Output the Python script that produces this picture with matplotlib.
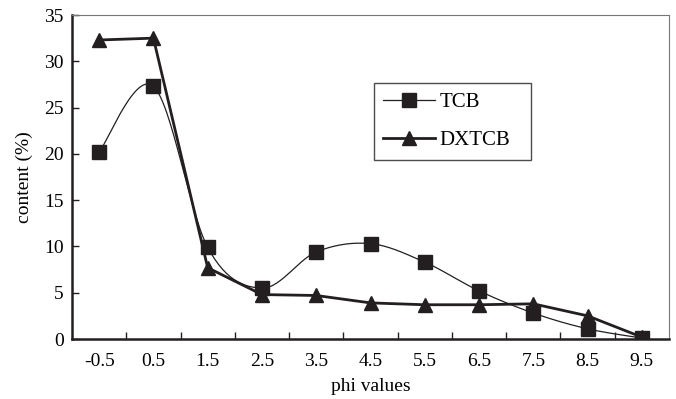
import numpy as np
import matplotlib.pyplot as plt

plt.rcParams['font.family'] = ['Liberation Serif', 'DejaVu Serif']

# phi categories and series values (%)
phi_labels = ['-0.5', '0.5', '1.5', '2.5', '3.5', '4.5', '5.5', '6.5', '7.5', '8.5', '9.5']
tcb = [20.2, 27.3, 9.9, 5.5, 9.4, 10.3, 8.3, 5.2, 2.8, 1.1, 0.1]
dxtcb = [32.3, 32.5, 7.7, 4.8, 4.7, 3.9, 3.7, 3.7, 3.8, 2.5, 0.2]


def smooth(x, y, n=30):
    # Excel-style smoothed line: cubic Bezier through points (Catmull-Rom controls)
    x = np.asarray(x, float)
    y = np.asarray(y, float)
    px = np.concatenate([[x[0]], x, [x[-1]]])
    py = np.concatenate([[y[0]], y, [y[-1]]])
    xs, ys = [], []
    t = np.linspace(0, 1, n)
    for i in range(len(x) - 1):
        p0 = np.array([px[i + 1], py[i + 1]])
        p3 = np.array([px[i + 2], py[i + 2]])
        c1 = p0 + (np.array([px[i + 2], py[i + 2]]) - np.array([px[i], py[i]])) / 6
        c2 = p3 - (np.array([px[i + 3], py[i + 3]]) - np.array([px[i + 1], py[i + 1]])) / 6
        b = ((1 - t) ** 3)[:, None] * p0 + (3 * (1 - t) ** 2 * t)[:, None] * c1 \
            + (3 * (1 - t) * t ** 2)[:, None] * c2 + (t ** 3)[:, None] * p3
        xs.extend(b[:, 0])
        ys.extend(b[:, 1])
    return np.array(xs), np.array(ys)


fig = plt.figure(figsize=(6.76, 3.99), dpi=100)
ax = fig.add_axes([72 / 676, 1 - 339 / 399, 597 / 676, 324 / 399])

x = np.arange(len(phi_labels))
col = '#231f20'

sx, sy = smooth(x, tcb)
ax.plot(sx, sy, color=col, lw=0.9, zorder=2)
ax.plot(x, tcb, ls='none', marker='s', ms=10, color=col, zorder=3)
ax.plot(x, dxtcb, color=col, lw=2.0, marker='^', ms=10, zorder=2)

# legend proxies
ax.plot([], [], color=col, lw=0.9, marker='s', ms=10, label='TCB')
ax.plot([], [], color=col, lw=2.0, marker='^', ms=10, label='DXTCB')
lx0 = (374 - 72) / 597
lw_ = (531 - 374) / 597
ly_top = (339 - 83) / 324
leg = ax.legend(loc='upper left', bbox_to_anchor=(lx0, ly_top - 0.3, lw_, 0.3), mode='expand',
                frameon=True, fancybox=False, edgecolor=col, fontsize=15,
                handlelength=2.5, borderpad=0.45, labelspacing=0.9, handletextpad=0.2,
                borderaxespad=0)
leg.get_frame().set_linewidth(1.0)

ax.set_xlim(-0.5, len(phi_labels) - 0.5)
ax.set_ylim(0, 35)
ax.set_yticks(range(0, 36, 5))
ax.set_xticks(x)
ax.set_xticklabels(phi_labels)
ax.set_xticks(np.arange(0.5, len(phi_labels) - 0.5, 1), minor=True)
ax.tick_params(axis='x', which='major', length=0, pad=10, labelsize=14)
ax.tick_params(axis='x', which='minor', direction='in', length=5, width=1, color=col)
ax.tick_params(axis='y', direction='in', length=5, width=1, color=col, labelsize=14, pad=6)

ax.spines['left'].set_color(col)
ax.spines['bottom'].set_color(col)
ax.spines['left'].set_linewidth(1.8)
ax.spines['bottom'].set_linewidth(1.8)
ax.spines['top'].set_color('#777777')
ax.spines['right'].set_color('#777777')

ax.set_xlabel('phi values', fontsize=14, labelpad=6)
ax.set_ylabel('content (%)', fontsize=14, labelpad=8)

fig.savefig('out.png', dpi=100)
